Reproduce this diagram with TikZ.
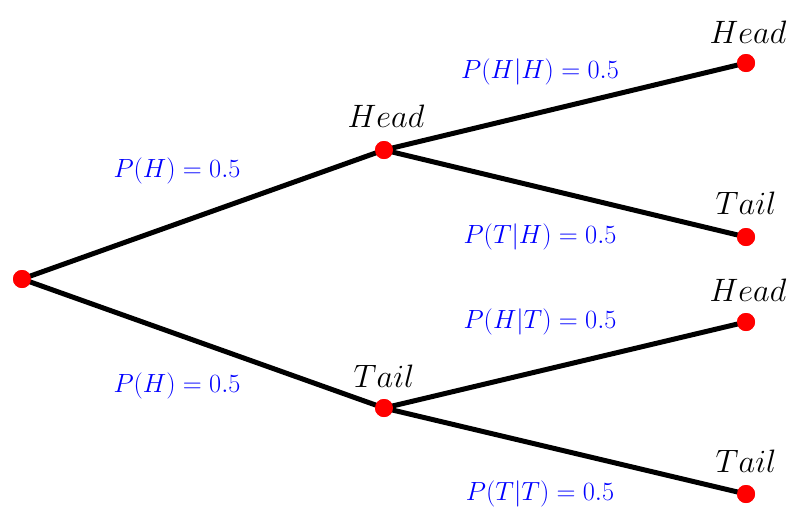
\documentclass[tikz,border=0pt]{standalone}
\usepackage{fix-cm}
\begin{document}
\begin{tikzpicture}[x=1pt,y=-1pt,
  dot/.style={circle,fill=red,inner sep=0pt,minimum size=18pt},
  edge/.style={line width=5pt},
  prob/.style={text=blue,font=\fontsize{26.3}{30}\selectfont,inner sep=0pt},
  lbl/.style={font=\fontsize{32.4}{38}\selectfont,inner sep=0pt}]
\useasboundingbox (0,0) rectangle (794,531);
\node[dot] (r) at (22,279) {};
\node[dot] (h) at (384,150) {};
\node[dot] (t) at (384,408) {};
\node[dot] (hh) at (746,63) {};
\node[dot] (ht) at (746,237) {};
\node[dot] (th) at (746,322) {};
\node[dot] (tt) at (746,494) {};
\draw[edge] (r.center) -- (h.center);
\draw[edge] (r.center) -- (t.center);
\draw[edge] (h.center) -- (hh.center);
\draw[edge] (h.center) -- (ht.center);
\draw[edge] (t.center) -- (th.center);
\draw[edge] (t.center) -- (tt.center);
\node[dot] at (r) {};
\node[dot] at (h) {};
\node[dot] at (t) {};
\node[dot] at (hh) {};
\node[dot] at (ht) {};
\node[dot] at (th) {};
\node[dot] at (tt) {};
\node[lbl] (lh) at (386,116) {$Head$};
\node[lbl] (lt) at (384,376) {$Tail$};
\node[lbl] (lhh) at (748,32) {$Head$};
\node[lbl] (lht) at (746,203) {$Tail$};
\node[lbl] (lth) at (748,290) {$Head$};
\node[lbl] (ltt) at (746,461) {$Tail$};
\node[prob] (p1) at (177,171) {$P(H) = 0.5$};
\node[prob] (p2) at (177,386) {$P(H) = 0.5$};
\node[prob] (p3) at (540,72) {$P(H|H) = 0.5$};
\node[prob] (p4) at (540,237) {$P(T|H) = 0.5$};
\node[prob] (p5) at (540,322) {$P(H|T) = 0.5$};
\node[prob] (p6) at (540,494) {$P(T|T) = 0.5$};
\end{tikzpicture}
\end{document}
